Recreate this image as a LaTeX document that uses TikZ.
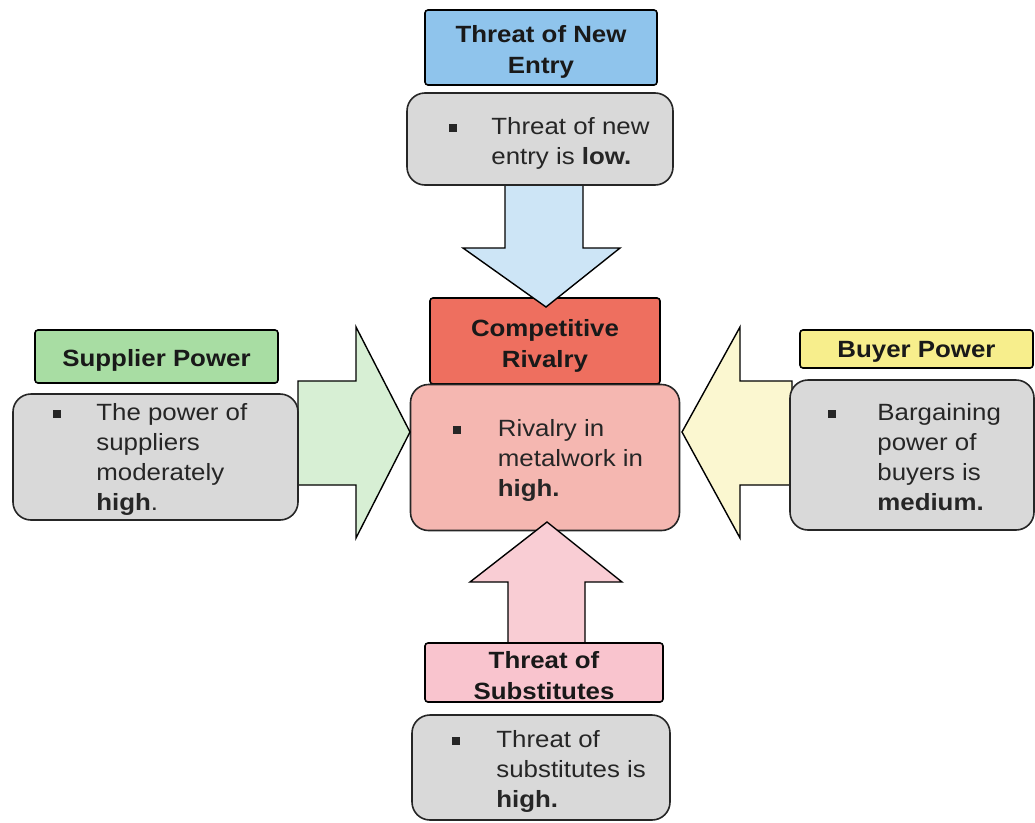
\documentclass[tikz,border=0pt]{standalone}
\usepackage{fontspec}
\setmainfont{Liberation Sans}[FakeStretch=1.1]
\usetikzlibrary{calc}

\definecolor{cardgray}{HTML}{D9D9D9}
\definecolor{entryhead}{HTML}{8FC4EC}
\definecolor{entryarrow}{HTML}{CDE5F6}
\definecolor{rivalhead}{HTML}{EE6F5F}
\definecolor{rivalbody}{HTML}{F5B7B1}
\definecolor{supphead}{HTML}{A8DDA3}
\definecolor{supparrow}{HTML}{D7EFD4}
\definecolor{buyhead}{HTML}{F7EE8C}
\definecolor{buyarrow}{HTML}{FBF7D0}
\definecolor{subshead}{HTML}{F9C4CE}
\definecolor{subsarrow}{HTML}{F9CDD4}

% small square bullet used in the cards
\newcommand{\sqbullet}{\raisebox{2.5pt}{\rule{8pt}{8pt}}}

\tikzset{
  head/.style={draw=black, line width=1.6pt, rounded corners=3pt, inner sep=0pt},
  headtext/.style={font=\fontsize{23.5}{31}\selectfont\bfseries, align=center,
    text=black!90, inner sep=0pt},
  card/.style={draw=black!85, line width=1.6pt, rounded corners=18pt,
    fill=cardgray, inner sep=0pt},
  cardtext/.style={anchor=west, font=\fontsize{23.5}{30}\selectfont,
    inner sep=0pt, text=black!85},
  blockarrow/.style={draw=black, line width=1.4pt, line join=miter},
}

\begin{document}
\begin{tikzpicture}[x=1pt, y=1pt]
\useasboundingbox (0,0) rectangle (1035,-822);
\fill[white] (0,0) rectangle (1035,-822);

% centre: competitive rivalry
\node[head, fill=rivalhead, minimum width=230, minimum height=86] (rh) at (545,-341) {};
\node[headtext] (rht) at ($(rh.center)+(0,-5)$) {Competitive\\Rivalry};
\node[card, fill=rivalbody, minimum width=269, minimum height=146] (rb) at (545,-457.5) {};
\node[cardtext] (rbt) at ($(rb.west)+(43,-3)$)
  {\begin{tabular}{@{}p{45pt}@{}l@{}}\sqbullet & Rivalry in\\ & metalwork in\\ & \textbf{high.}\end{tabular}};

% block arrows pointing at the centre
\draw[blockarrow, fill=entryarrow] (505,-185) -- (583,-185) -- (583,-248) -- (620,-248)
  -- (546,-307) -- (463,-248) -- (505,-248) -- cycle;
\draw[blockarrow, fill=supparrow] (298,-381) -- (356,-381) -- (356,-327) -- (410,-432)
  -- (356,-538) -- (356,-485) -- (298,-485) -- cycle;
\draw[blockarrow, fill=buyarrow] (792,-381) -- (740,-381) -- (740,-327) -- (682,-432)
  -- (740,-538) -- (740,-485) -- (792,-485) -- cycle;
\draw[blockarrow, fill=subsarrow] (508,-643) -- (508,-582) -- (470,-582) -- (547,-522)
  -- (622,-582) -- (585,-582) -- (585,-643) -- cycle;

% threat of new entry
\node[head, fill=entryhead, minimum width=232, minimum height=75] (eh) at (541,-47.5) {};
\node[headtext] (eht) at ($(eh.center)+(0,-4)$) {Threat of New\\Entry};
\node[card, minimum width=266, minimum height=92] (eb) at (540,-139) {};
\node[cardtext] (ebt) at ($(eb.west)+(43,-4)$)
  {\begin{tabular}{@{}p{42pt}@{}l@{}}\sqbullet & Threat of new\\ & entry is \textbf{low.}\end{tabular}};

% supplier power
\node[head, fill=supphead, minimum width=243, minimum height=53] (sh) at (156.5,-356.5) {};
\node[headtext] (sht) at ($(sh.center)+(0,-4)$) {Supplier Power};
\node[card, minimum width=285, minimum height=126] (sb) at (155.5,-457) {};
\node[cardtext] (sbt) at ($(sb.west)+(41,-2)$)
  {\begin{tabular}{@{}p{43pt}@{}l@{}}\sqbullet & The power of\\ & suppliers\\ & moderately\\ & \textbf{high}.\end{tabular}};

% buyer power
\node[head, fill=buyhead, minimum width=233, minimum height=38] (bh) at (916.5,-349) {};
\node[headtext] (bht) at ($(bh.center)+(0,-3)$) {Buyer Power};
\node[card, minimum width=244, minimum height=150] (bb) at (912,-455) {};
\node[cardtext] (bbt) at ($(bb.west)+(39,-4)$)
  {\begin{tabular}{@{}p{49pt}@{}l@{}}\sqbullet & Bargaining\\ & power of\\ & buyers is\\ & \textbf{medium.}\end{tabular}};

% threat of substitutes
\node[head, fill=subshead, minimum width=238, minimum height=59] (uh) at (544,-672.5) {};
\node[headtext] (uht) at ($(uh.center)+(0,-3)$) {Threat of\\Substitutes};
\node[card, minimum width=258, minimum height=105] (ub) at (541,-767.5) {};
\node[cardtext] (ubt) at ($(ub.west)+(41,-4)$)
  {\begin{tabular}{@{}p{44pt}@{}l@{}}\sqbullet & Threat of\\ & substitutes is\\ & \textbf{high.}\end{tabular}};
\end{tikzpicture}
\end{document}
